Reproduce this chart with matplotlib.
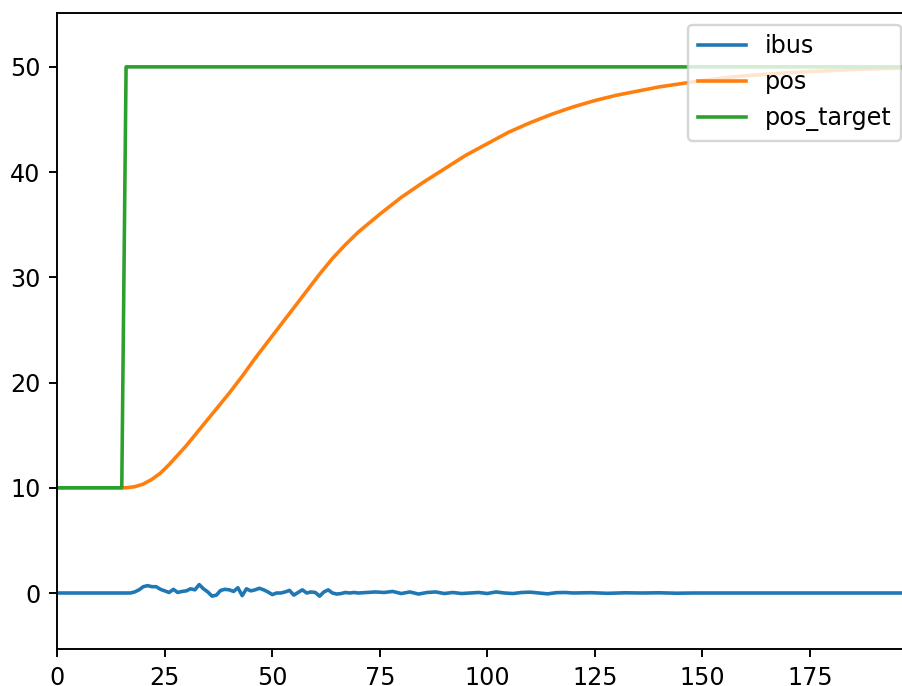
import matplotlib
matplotlib.use("Agg")
import matplotlib.pyplot as plt

# ibus (current) samples
ibus_x = [0, 17, 18, 19, 20, 21, 22, 23, 24, 25, 26, 27, 28, 29, 30, 31, 32, 33, 34, 35,
          36, 37, 38, 39, 40, 41, 42, 43, 44, 45, 46, 47, 48, 49, 50, 51, 52, 53, 54, 55,
          56, 57, 58, 59, 60, 61, 62, 63, 64, 65, 66, 67, 68, 69, 70,
          72, 74, 76, 78, 80, 82, 84, 86, 88, 90, 92, 94, 96, 98, 100, 102, 104, 106, 108,
          110, 112, 114, 116, 118, 120, 124, 128, 132, 136, 140, 144, 148, 199]
ibus = [0.0, 0.0, 0.1, 0.3, 0.6, 0.7, 0.6, 0.6, 0.35, 0.2, 0.05, 0.35, 0.05, 0.15, 0.2, 0.4, 0.3, 0.8, 0.4, 0.1,
        -0.3, -0.2, 0.25, 0.35, 0.3, 0.15, 0.5, -0.25, 0.4, 0.2, 0.3, 0.45, 0.3, 0.1, -0.15, 0.0, 0.0, 0.1, 0.25, -0.2,
        0.05, 0.3, 0.0, 0.1, 0.05, -0.3, 0.1, 0.3, 0.0, -0.1, -0.05, 0.05, 0.0, 0.05, 0.0,
        0.05, 0.1, 0.05, 0.15, -0.05, 0.1, -0.1, 0.05, 0.1, -0.05, 0.05, -0.05, 0.0, 0.05, -0.05, 0.1, 0.0, -0.05, 0.05,
        0.08, 0.0, -0.08, 0.03, 0.05, 0.0, 0.03, -0.03, 0.02, 0.0, 0.02, -0.02, 0.0, 0.0]

# position
pos_x = [0, 15, 16, 18, 20, 22, 24, 26, 28, 30, 32, 34, 37, 40, 43, 46, 49, 52, 55, 58, 61, 64, 67, 70,
         75, 80, 85, 90, 95, 100, 105, 110, 115, 120, 125, 130, 135, 140, 145, 150, 155, 160, 165,
         170, 175, 180, 185, 190, 199]
pos = [10, 10, 10.0, 10.1, 10.35, 10.8, 11.4, 12.2, 13.1, 14.0, 15.0, 16.0, 17.5, 19.0, 20.6, 22.3, 23.9,
       25.5, 27.1, 28.7, 30.3, 31.8, 33.1, 34.3, 36.0, 37.6, 39.0, 40.3, 41.6, 42.7, 43.8, 44.7, 45.5, 46.2,
       46.8, 47.3, 47.7, 48.1, 48.4, 48.7, 48.95, 49.15, 49.3, 49.45, 49.55, 49.65, 49.75, 49.82, 49.9]

# target
target_x = [0, 15, 16, 199]
pos_target = [10, 10, 50, 50]

fig = plt.figure(figsize=(902 / 172, 686 / 172), dpi=172)
ax = fig.add_axes([0.0635, 0.0535, 0.9487, 0.928])

ax.plot(ibus_x, ibus, label="ibus")
ax.plot(pos_x, pos, label="pos")
ax.plot(target_x, pos_target, label="pos_target")

ax.set_xlim(0, 199)
ax.set_ylim(-5.35, 55.15)
ax.set_xticks([0, 25, 50, 75, 100, 125, 150, 175])
ax.set_yticks([0, 10, 20, 30, 40, 50])
ax.legend(loc="upper right")

fig.savefig("out.png", dpi=172)
